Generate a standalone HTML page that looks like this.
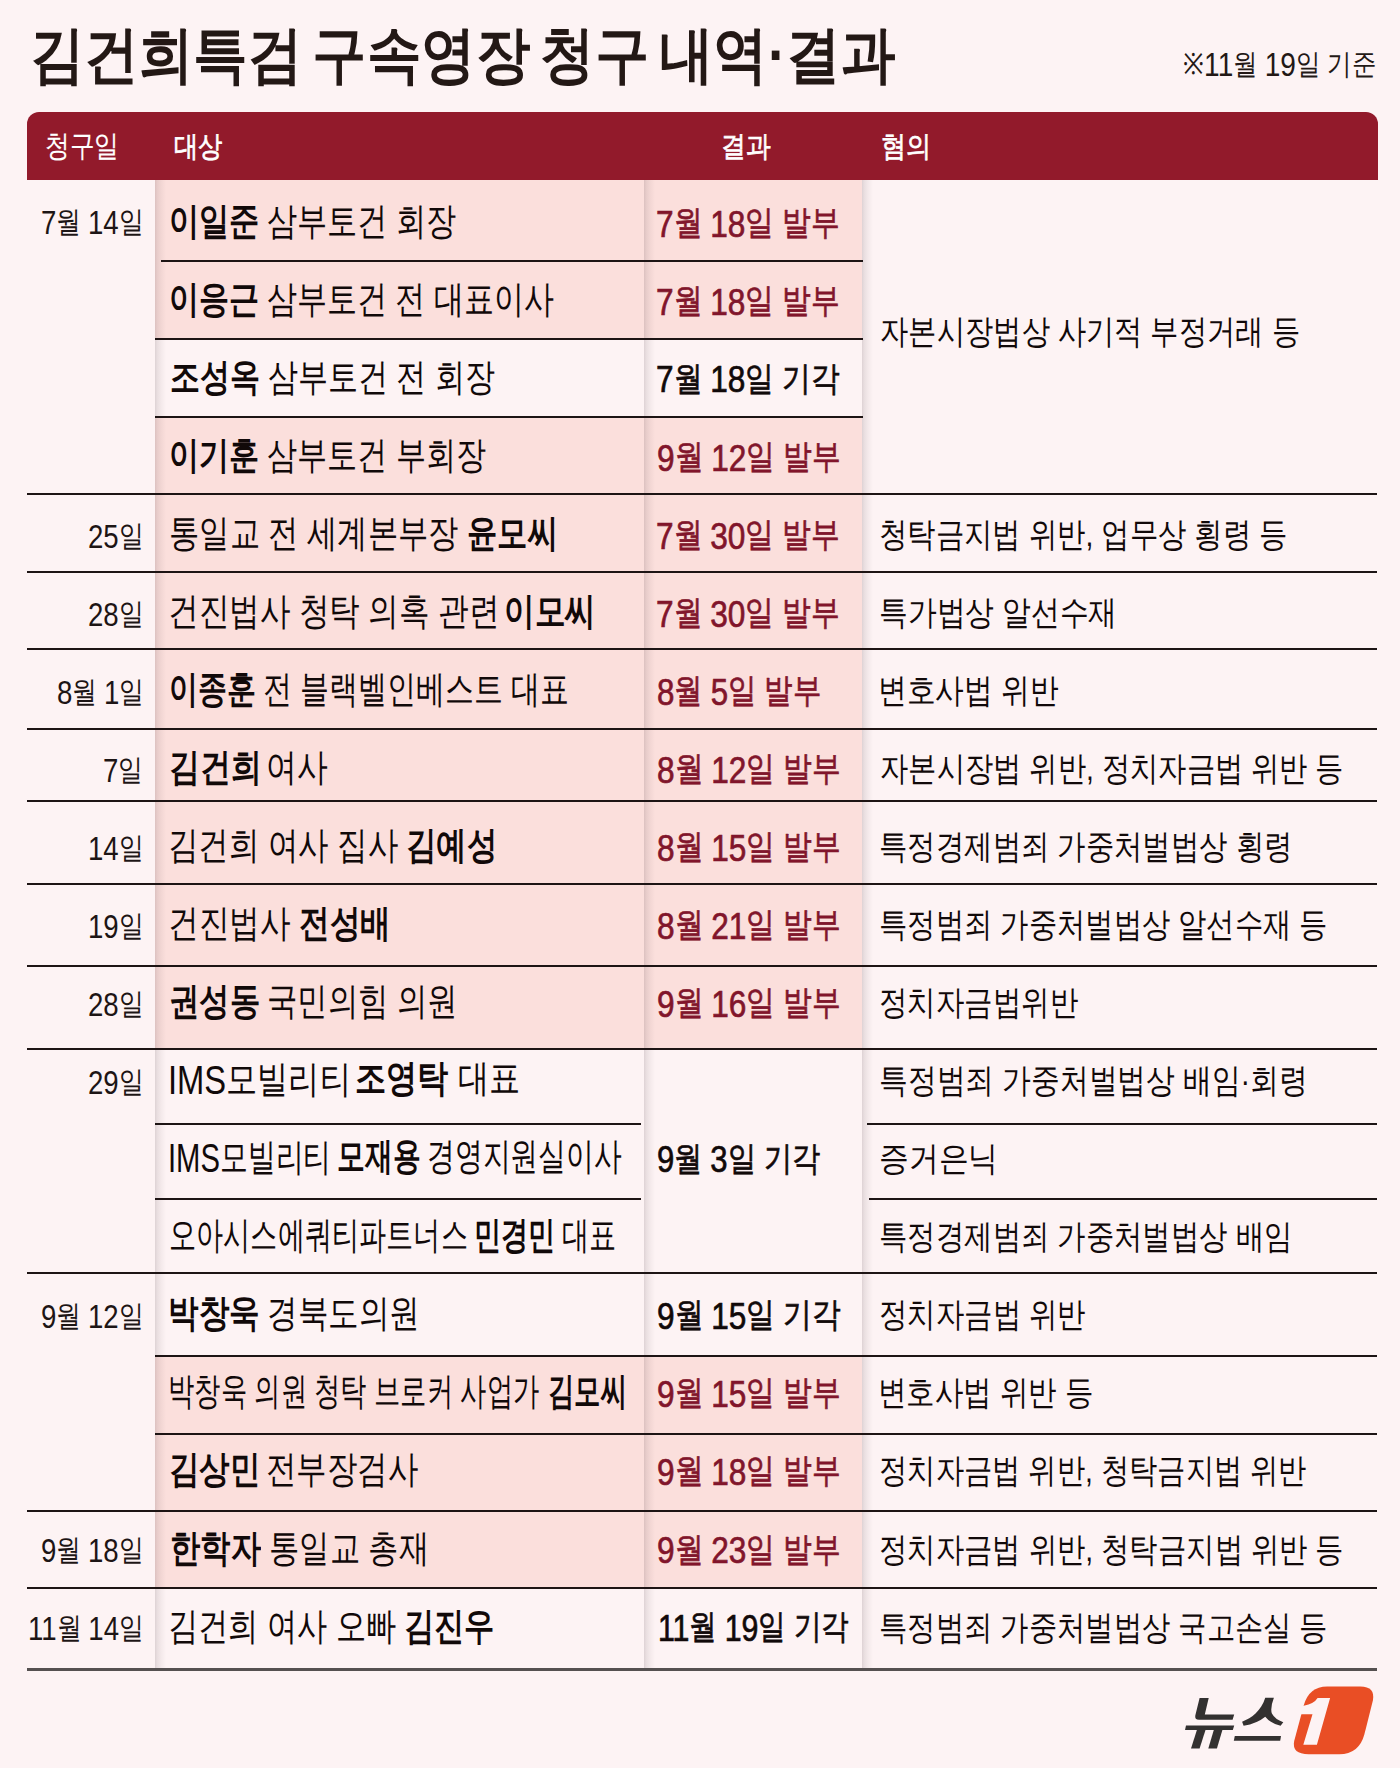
<!DOCTYPE html>
<html><head><meta charset="utf-8"><style>
html,body{margin:0;padding:0}
body{width:1400px;height:1768px;background:#fdf3f4;position:relative;overflow:hidden;font-family:"Liberation Sans",sans-serif}
.b{position:absolute}
.t{position:absolute;white-space:nowrap;line-height:1;transform-origin:0 0}
</style></head><body>
<div class=b style='left:155px;top:180.0px;width:707px;height:81.3px;background:#fbdfdc'></div>
<div class=b style='left:155px;top:261.3px;width:707px;height:77.5px;background:#fbdfdc'></div>
<div class=b style='left:155px;top:416.7px;width:707px;height:77.3px;background:#fbdfdc'></div>
<div class=b style='left:155px;top:494.0px;width:707px;height:78.0px;background:#fbdfdc'></div>
<div class=b style='left:155px;top:572.0px;width:707px;height:76.6px;background:#fbdfdc'></div>
<div class=b style='left:155px;top:648.6px;width:707px;height:80.0px;background:#fbdfdc'></div>
<div class=b style='left:155px;top:728.6px;width:707px;height:72.3px;background:#fbdfdc'></div>
<div class=b style='left:155px;top:800.9px;width:707px;height:82.6px;background:#fbdfdc'></div>
<div class=b style='left:155px;top:883.5px;width:707px;height:82.5px;background:#fbdfdc'></div>
<div class=b style='left:155px;top:966.0px;width:707px;height:82.6px;background:#fbdfdc'></div>
<div class=b style='left:155px;top:1356.4px;width:707px;height:77.3px;background:#fbdfdc'></div>
<div class=b style='left:155px;top:1433.7px;width:707px;height:76.8px;background:#fbdfdc'></div>
<div class=b style='left:155px;top:1510.5px;width:707px;height:77.2px;background:#fbdfdc'></div>
<div class=b style='left:155px;top:180px;width:11px;height:1488px;background:linear-gradient(90deg,rgba(30,10,20,.14),rgba(30,10,20,.09) 20%,rgba(30,10,20,.045) 55%,rgba(30,10,20,0))'></div>
<div class=b style='left:644px;top:180px;width:11px;height:1488px;background:linear-gradient(90deg,rgba(30,10,20,.14),rgba(30,10,20,.09) 20%,rgba(30,10,20,.045) 55%,rgba(30,10,20,0))'></div>
<div class=b style='left:862px;top:180px;width:11px;height:1488px;background:linear-gradient(90deg,rgba(30,10,20,.14),rgba(30,10,20,.09) 20%,rgba(30,10,20,.045) 55%,rgba(30,10,20,0))'></div>
<div class=b style='left:27px;top:493.0px;width:1350px;height:2px;background:#1d1414'></div>
<div class=b style='left:27px;top:571.0px;width:1350px;height:2px;background:#1d1414'></div>
<div class=b style='left:27px;top:647.6px;width:1350px;height:2px;background:#1d1414'></div>
<div class=b style='left:27px;top:727.6px;width:1350px;height:2px;background:#1d1414'></div>
<div class=b style='left:27px;top:799.9px;width:1350px;height:2px;background:#1d1414'></div>
<div class=b style='left:27px;top:882.5px;width:1350px;height:2px;background:#1d1414'></div>
<div class=b style='left:27px;top:965.0px;width:1350px;height:2px;background:#1d1414'></div>
<div class=b style='left:27px;top:1047.6px;width:1350px;height:2px;background:#1d1414'></div>
<div class=b style='left:27px;top:1272.3px;width:1350px;height:2px;background:#1d1414'></div>
<div class=b style='left:27px;top:1509.5px;width:1350px;height:2px;background:#1d1414'></div>
<div class=b style='left:27px;top:1586.7px;width:1350px;height:2px;background:#1d1414'></div>
<div class=b style='left:161px;top:260.3px;width:702px;height:2px;background:#1d1414'></div>
<div class=b style='left:155px;top:337.8px;width:708px;height:2px;background:#1d1414'></div>
<div class=b style='left:155px;top:415.7px;width:708px;height:2px;background:#1d1414'></div>
<div class=b style='left:155px;top:1122.5px;width:486px;height:2px;background:#1d1414'></div>
<div class=b style='left:867px;top:1122.5px;width:510px;height:2px;background:#1d1414'></div>
<div class=b style='left:155px;top:1197.6px;width:486px;height:2px;background:#1d1414'></div>
<div class=b style='left:869px;top:1197.6px;width:508px;height:2px;background:#1d1414'></div>
<div class=b style='left:155px;top:1355.4px;width:1222px;height:2px;background:#1d1414'></div>
<div class=b style='left:155px;top:1432.7px;width:1222px;height:2px;background:#1d1414'></div>
<div class=b style='left:27px;top:1667.8px;width:1350px;height:3px;background:#555050'></div>
<div class=b style='left:27px;top:112px;width:1351px;height:68px;background:#921a2b;border-radius:12px 12px 0 0'></div>
<div class=t style='left:29.58px;top:23.74px;font-size:62.19px;color:#231815;transform:scaleX(0.8787);word-spacing:-6px;'><span style='font-weight:700'>김건희특검 구속영장 청구 내역·결과</span></div>
<div class=t style='left:1183.14px;top:45.92px;font-size:29.45px;color:#231815;transform:scaleX(0.8442);'><span style='font-weight:400'>※<span style='font-size:1.13em;position:relative;top:0.06em'>11</span>월 <span style='font-size:1.13em;position:relative;top:0.06em'>19</span>일 기준</span></div>
<div class=t style='left:45.44px;top:131.49px;font-size:30.22px;color:#ffffff;transform:scaleX(0.8248);-webkit-text-stroke:0.15px #ffffff;'><span style='font-weight:400'>청구일</span></div>
<div class=t style='left:174.39px;top:131.56px;font-size:29.14px;color:#ffffff;transform:scaleX(0.8375);-webkit-text-stroke:0.75px #ffffff;'><span style='font-weight:400'>대상</span></div>
<div class=t style='left:720.71px;top:131.56px;font-size:29.14px;color:#ffffff;transform:scaleX(0.8560);-webkit-text-stroke:0.7px #ffffff;'><span style='font-weight:400'>결과</span></div>
<div class=t style='left:881.21px;top:131.56px;font-size:29.14px;color:#ffffff;transform:scaleX(0.8674);-webkit-text-stroke:0.7px #ffffff;'><span style='font-weight:400'>혐의</span></div>
<div class=t style='left:41.24px;top:204.00px;font-size:29.5px;color:#1d1515;transform:scaleX(0.8280);'><span style='font-weight:400'><span style='font-size:1.13em;position:relative;top:0.06em'>7</span>월 <span style='font-size:1.13em;position:relative;top:0.06em'>14</span>일</span></div>
<div class=t style='left:88.44px;top:517.62px;font-size:29.5px;color:#1d1515;transform:scaleX(0.8280);'><span style='font-weight:400'><span style='font-size:1.13em;position:relative;top:0.06em'>25</span>일</span></div>
<div class=t style='left:88.44px;top:595.65px;font-size:29.5px;color:#1d1515;transform:scaleX(0.8280);'><span style='font-weight:400'><span style='font-size:1.13em;position:relative;top:0.06em'>28</span>일</span></div>
<div class=t style='left:56.98px;top:673.68px;font-size:29.5px;color:#1d1515;transform:scaleX(0.8280);'><span style='font-weight:400'><span style='font-size:1.13em;position:relative;top:0.06em'>8</span>월 <span style='font-size:1.13em;position:relative;top:0.06em'>1</span>일</span></div>
<div class=t style='left:103.34px;top:751.71px;font-size:29.5px;color:#1d1515;transform:scaleX(0.8280);'><span style='font-weight:400'><span style='font-size:1.13em;position:relative;top:0.06em'>7</span>일</span></div>
<div class=t style='left:88.44px;top:829.74px;font-size:29.5px;color:#1d1515;transform:scaleX(0.8280);'><span style='font-weight:400'><span style='font-size:1.13em;position:relative;top:0.06em'>14</span>일</span></div>
<div class=t style='left:88.44px;top:907.77px;font-size:29.5px;color:#1d1515;transform:scaleX(0.8280);'><span style='font-weight:400'><span style='font-size:1.13em;position:relative;top:0.06em'>19</span>일</span></div>
<div class=t style='left:88.44px;top:985.80px;font-size:29.5px;color:#1d1515;transform:scaleX(0.8280);'><span style='font-weight:400'><span style='font-size:1.13em;position:relative;top:0.06em'>28</span>일</span></div>
<div class=t style='left:88.44px;top:1063.83px;font-size:29.5px;color:#1d1515;transform:scaleX(0.8280);'><span style='font-weight:400'><span style='font-size:1.13em;position:relative;top:0.06em'>29</span>일</span></div>
<div class=t style='left:41.24px;top:1297.92px;font-size:29.5px;color:#1d1515;transform:scaleX(0.8280);'><span style='font-weight:400'><span style='font-size:1.13em;position:relative;top:0.06em'>9</span>월 <span style='font-size:1.13em;position:relative;top:0.06em'>12</span>일</span></div>
<div class=t style='left:41.24px;top:1532.01px;font-size:29.5px;color:#1d1515;transform:scaleX(0.8280);'><span style='font-weight:400'><span style='font-size:1.13em;position:relative;top:0.06em'>9</span>월 <span style='font-size:1.13em;position:relative;top:0.06em'>18</span>일</span></div>
<div class=t style='left:28.00px;top:1610.04px;font-size:29.5px;color:#1d1515;transform:scaleX(0.8280);'><span style='font-weight:400'><span style='font-size:1.13em;position:relative;top:0.06em'>11</span>월 <span style='font-size:1.13em;position:relative;top:0.06em'>14</span>일</span></div>
<div class=t style='left:168.82px;top:202.00px;font-size:38px;color:#110909;transform:scaleX(0.7936);'><span style='font-weight:700'>이일준</span></div>
<div class=t style='left:267.12px;top:202.00px;font-size:38px;color:#110909;transform:scaleX(0.7936);'><span style='font-weight:400'>삼부토건 회장</span></div>
<div class=t style='left:168.83px;top:280.03px;font-size:38px;color:#110909;transform:scaleX(0.7896);'><span style='font-weight:700'>이응근</span></div>
<div class=t style='left:266.68px;top:280.03px;font-size:38px;color:#110909;transform:scaleX(0.7896);'><span style='font-weight:400'>삼부토건 전 대표이사</span></div>
<div class=t style='left:169.62px;top:358.06px;font-size:38px;color:#110909;transform:scaleX(0.7904);'><span style='font-weight:700'>조성옥</span></div>
<div class=t style='left:267.56px;top:358.06px;font-size:38px;color:#110909;transform:scaleX(0.7904);'><span style='font-weight:400'>삼부토건 전 회장</span></div>
<div class=t style='left:168.82px;top:436.09px;font-size:38px;color:#110909;transform:scaleX(0.7924);'><span style='font-weight:700'>이기훈</span></div>
<div class=t style='left:266.99px;top:436.09px;font-size:38px;color:#110909;transform:scaleX(0.7924);'><span style='font-weight:400'>삼부토건 부회장</span></div>
<div class=t style='left:168.81px;top:514.12px;font-size:38px;color:#110909;transform:scaleX(0.7970);'><span style='font-weight:400'>통일교 전 세계본부장</span></div>
<div class=t style='left:466.73px;top:514.12px;font-size:38px;color:#110909;transform:scaleX(0.7970);'><span style='font-weight:700'>윤모씨</span></div>
<div class=t style='left:167.98px;top:592.15px;font-size:38px;color:#110909;transform:scaleX(0.8047);'><span style='font-weight:400'>건진법사 청탁 의혹 관련</span></div>
<div class=t style='left:504.09px;top:592.15px;font-size:38px;color:#110909;transform:scaleX(0.8047);'><span style='font-weight:700'>이모씨</span></div>
<div class=t style='left:168.91px;top:670.18px;font-size:38px;color:#110909;transform:scaleX(0.7617);'><span style='font-weight:700'>이종훈</span></div>
<div class=t style='left:262.94px;top:670.18px;font-size:38px;color:#110909;transform:scaleX(0.7617);'><span style='font-weight:400'>전 블랙벨인베스트 대표</span></div>
<div class=t style='left:168.76px;top:748.21px;font-size:38px;color:#110909;transform:scaleX(0.8124);'><span style='font-weight:700'>김건희</span></div>
<div class=t style='left:265.87px;top:748.21px;font-size:38px;color:#110909;transform:scaleX(0.8124);'><span style='font-weight:400'>여사</span></div>
<div class=t style='left:167.99px;top:826.24px;font-size:38px;color:#110909;transform:scaleX(0.8015);'><span style='font-weight:400'>김건희 여사 집사</span></div>
<div class=t style='left:405.83px;top:826.24px;font-size:38px;color:#110909;transform:scaleX(0.8015);'><span style='font-weight:700'>김예성</span></div>
<div class=t style='left:167.97px;top:904.27px;font-size:38px;color:#110909;transform:scaleX(0.8067);'><span style='font-weight:400'>건진법사</span></div>
<div class=t style='left:299.17px;top:904.27px;font-size:38px;color:#110909;transform:scaleX(0.8067);'><span style='font-weight:700'>전성배</span></div>
<div class=t style='left:168.80px;top:982.30px;font-size:38px;color:#110909;transform:scaleX(0.8000);'><span style='font-weight:700'>권성동</span></div>
<div class=t style='left:267.00px;top:982.30px;font-size:38px;color:#110909;transform:scaleX(0.8000);'><span style='font-weight:400'>국민의힘 의원</span></div>
<div class=t style='left:167.92px;top:1059.33px;font-size:38px;color:#110909;transform:scaleX(0.8199);'><span style='font-weight:400'><span style='font-size:1.05em;position:relative;top:0.05em'>IMS</span>모빌리티</span></div>
<div class=t style='left:355.21px;top:1059.33px;font-size:38px;color:#110909;transform:scaleX(0.8199);'><span style='font-weight:700'>조영탁</span></div>
<div class=t style='left:458.04px;top:1059.33px;font-size:38px;color:#110909;transform:scaleX(0.8199);'><span style='font-weight:400'>대표</span></div>
<div class=t style='left:168.27px;top:1137.36px;font-size:38px;color:#110909;transform:scaleX(0.7320);'><span style='font-weight:400'><span style='font-size:1.05em;position:relative;top:0.05em'>IMS</span>모빌리티</span></div>
<div class=t style='left:336.64px;top:1137.36px;font-size:38px;color:#110909;transform:scaleX(0.7320);'><span style='font-weight:700'>모재용</span></div>
<div class=t style='left:427.43px;top:1137.36px;font-size:38px;color:#110909;transform:scaleX(0.7320);'><span style='font-weight:400'>경영지원실이사</span></div>
<div class=t style='left:169.06px;top:1216.39px;font-size:38px;color:#110909;transform:scaleX(0.7149);'><span style='font-weight:400'>오아시스에쿼티파트너스</span></div>
<div class=t style='left:473.90px;top:1216.39px;font-size:38px;color:#110909;transform:scaleX(0.7149);'><span style='font-weight:700'>민경민</span></div>
<div class=t style='left:562.11px;top:1216.39px;font-size:38px;color:#110909;transform:scaleX(0.7149);'><span style='font-weight:400'>대표</span></div>
<div class=t style='left:167.98px;top:1294.42px;font-size:38px;color:#110909;transform:scaleX(0.8038);'><span style='font-weight:700'>박창욱</span></div>
<div class=t style='left:266.60px;top:1294.42px;font-size:38px;color:#110909;transform:scaleX(0.8038);'><span style='font-weight:400'>경북도의원</span></div>
<div class=t style='left:168.43px;top:1372.45px;font-size:38px;color:#110909;transform:scaleX(0.6923);'><span style='font-weight:400'>박창욱 의원 청탁 브로커 사업가</span></div>
<div class=t style='left:547.74px;top:1372.45px;font-size:38px;color:#110909;transform:scaleX(0.6923);'><span style='font-weight:700'>김모씨</span></div>
<div class=t style='left:168.79px;top:1450.48px;font-size:38px;color:#110909;transform:scaleX(0.8017);'><span style='font-weight:700'>김상민</span></div>
<div class=t style='left:265.58px;top:1450.48px;font-size:38px;color:#110909;transform:scaleX(0.8017);'><span style='font-weight:400'>전부장검사</span></div>
<div class=t style='left:169.61px;top:1528.51px;font-size:38px;color:#110909;transform:scaleX(0.7974);'><span style='font-weight:700'>한학자</span></div>
<div class=t style='left:269.11px;top:1528.51px;font-size:38px;color:#110909;transform:scaleX(0.7974);'><span style='font-weight:400'>통일교 총재</span></div>
<div class=t style='left:168.02px;top:1606.54px;font-size:38px;color:#110909;transform:scaleX(0.7954);'><span style='font-weight:400'>김건희 여사 오빠</span></div>
<div class=t style='left:404.12px;top:1606.54px;font-size:38px;color:#110909;transform:scaleX(0.7954);'><span style='font-weight:700'>김진우</span></div>
<div class=t style='left:656.21px;top:203.00px;font-size:34px;color:#81152b;transform:scaleX(0.8451);-webkit-text-stroke:0.7px #81152b;'><span style='font-weight:400'><span style='font-size:1.1em;position:relative;top:0.07em'>7</span>월 <span style='font-size:1.1em;position:relative;top:0.07em'>18</span>일 발부</span></div>
<div class=t style='left:656.21px;top:281.03px;font-size:34px;color:#81152b;transform:scaleX(0.8451);-webkit-text-stroke:0.7px #81152b;'><span style='font-weight:400'><span style='font-size:1.1em;position:relative;top:0.07em'>7</span>월 <span style='font-size:1.1em;position:relative;top:0.07em'>18</span>일 발부</span></div>
<div class=t style='left:656.21px;top:358.56px;font-size:34px;color:#110909;transform:scaleX(0.8451);-webkit-text-stroke:0.7px #110909;'><span style='font-weight:400'><span style='font-size:1.1em;position:relative;top:0.07em'>7</span>월 <span style='font-size:1.1em;position:relative;top:0.07em'>18</span>일 기각</span></div>
<div class=t style='left:657.05px;top:437.09px;font-size:34px;color:#81152b;transform:scaleX(0.8451);-webkit-text-stroke:0.7px #81152b;'><span style='font-weight:400'><span style='font-size:1.1em;position:relative;top:0.07em'>9</span>월 <span style='font-size:1.1em;position:relative;top:0.07em'>12</span>일 발부</span></div>
<div class=t style='left:656.21px;top:515.12px;font-size:34px;color:#81152b;transform:scaleX(0.8451);-webkit-text-stroke:0.7px #81152b;'><span style='font-weight:400'><span style='font-size:1.1em;position:relative;top:0.07em'>7</span>월 <span style='font-size:1.1em;position:relative;top:0.07em'>30</span>일 발부</span></div>
<div class=t style='left:656.21px;top:593.15px;font-size:34px;color:#81152b;transform:scaleX(0.8451);-webkit-text-stroke:0.7px #81152b;'><span style='font-weight:400'><span style='font-size:1.1em;position:relative;top:0.07em'>7</span>월 <span style='font-size:1.1em;position:relative;top:0.07em'>30</span>일 발부</span></div>
<div class=t style='left:656.66px;top:671.18px;font-size:34px;color:#81152b;transform:scaleX(0.8363);-webkit-text-stroke:0.7px #81152b;'><span style='font-weight:400'><span style='font-size:1.1em;position:relative;top:0.07em'>8</span>월 <span style='font-size:1.1em;position:relative;top:0.07em'>5</span>일 발부</span></div>
<div class=t style='left:657.05px;top:749.21px;font-size:34px;color:#81152b;transform:scaleX(0.8451);-webkit-text-stroke:0.7px #81152b;'><span style='font-weight:400'><span style='font-size:1.1em;position:relative;top:0.07em'>8</span>월 <span style='font-size:1.1em;position:relative;top:0.07em'>12</span>일 발부</span></div>
<div class=t style='left:657.05px;top:827.24px;font-size:34px;color:#81152b;transform:scaleX(0.8451);-webkit-text-stroke:0.7px #81152b;'><span style='font-weight:400'><span style='font-size:1.1em;position:relative;top:0.07em'>8</span>월 <span style='font-size:1.1em;position:relative;top:0.07em'>15</span>일 발부</span></div>
<div class=t style='left:657.05px;top:905.27px;font-size:34px;color:#81152b;transform:scaleX(0.8451);-webkit-text-stroke:0.7px #81152b;'><span style='font-weight:400'><span style='font-size:1.1em;position:relative;top:0.07em'>8</span>월 <span style='font-size:1.1em;position:relative;top:0.07em'>21</span>일 발부</span></div>
<div class=t style='left:657.05px;top:983.30px;font-size:34px;color:#81152b;transform:scaleX(0.8451);-webkit-text-stroke:0.7px #81152b;'><span style='font-weight:400'><span style='font-size:1.1em;position:relative;top:0.07em'>9</span>월 <span style='font-size:1.1em;position:relative;top:0.07em'>16</span>일 발부</span></div>
<div class=t style='left:657.07px;top:1138.86px;font-size:34px;color:#110909;transform:scaleX(0.8297);-webkit-text-stroke:0.7px #110909;'><span style='font-weight:400'><span style='font-size:1.1em;position:relative;top:0.07em'>9</span>월 <span style='font-size:1.1em;position:relative;top:0.07em'>3</span>일 기각</span></div>
<div class=t style='left:657.05px;top:1294.92px;font-size:34px;color:#110909;transform:scaleX(0.8451);-webkit-text-stroke:0.7px #110909;'><span style='font-weight:400'><span style='font-size:1.1em;position:relative;top:0.07em'>9</span>월 <span style='font-size:1.1em;position:relative;top:0.07em'>15</span>일 기각</span></div>
<div class=t style='left:657.05px;top:1373.45px;font-size:34px;color:#81152b;transform:scaleX(0.8451);-webkit-text-stroke:0.7px #81152b;'><span style='font-weight:400'><span style='font-size:1.1em;position:relative;top:0.07em'>9</span>월 <span style='font-size:1.1em;position:relative;top:0.07em'>15</span>일 발부</span></div>
<div class=t style='left:657.05px;top:1451.48px;font-size:34px;color:#81152b;transform:scaleX(0.8451);-webkit-text-stroke:0.7px #81152b;'><span style='font-weight:400'><span style='font-size:1.1em;position:relative;top:0.07em'>9</span>월 <span style='font-size:1.1em;position:relative;top:0.07em'>18</span>일 발부</span></div>
<div class=t style='left:657.05px;top:1529.51px;font-size:34px;color:#81152b;transform:scaleX(0.8451);-webkit-text-stroke:0.7px #81152b;'><span style='font-weight:400'><span style='font-size:1.1em;position:relative;top:0.07em'>9</span>월 <span style='font-size:1.1em;position:relative;top:0.07em'>23</span>일 발부</span></div>
<div class=t style='left:658.18px;top:1607.04px;font-size:34px;color:#110909;transform:scaleX(0.8112);-webkit-text-stroke:0.7px #110909;'><span style='font-weight:400'><span style='font-size:1.1em;position:relative;top:0.07em'>11</span>월 <span style='font-size:1.1em;position:relative;top:0.07em'>19</span>일 기각</span></div>
<div class=t style='left:880.14px;top:313.50px;font-size:34px;color:#110909;transform:scaleX(0.8324);'><span style='font-weight:400'>자본시장법상 사기적 부정거래 등</span></div>
<div class=t style='left:879.30px;top:517.12px;font-size:34px;color:#110909;transform:scaleX(0.8345);'><span style='font-weight:400'>청탁금지법 위반, 업무상 횡령 등</span></div>
<div class=t style='left:879.26px;top:595.15px;font-size:34px;color:#110909;transform:scaleX(0.8465);'><span style='font-weight:400'>특가법상 알선수재</span></div>
<div class=t style='left:878.42px;top:673.18px;font-size:34px;color:#110909;transform:scaleX(0.8447);'><span style='font-weight:400'>변호사법 위반</span></div>
<div class=t style='left:880.14px;top:751.21px;font-size:34px;color:#110909;transform:scaleX(0.8322);'><span style='font-weight:400'>자본시장법 위반, 정치자금법 위반 등</span></div>
<div class=t style='left:879.29px;top:829.24px;font-size:34px;color:#110909;transform:scaleX(0.8353);'><span style='font-weight:400'>특정경제범죄 가중처벌법상 횡령</span></div>
<div class=t style='left:879.30px;top:907.27px;font-size:34px;color:#110909;transform:scaleX(0.8334);'><span style='font-weight:400'>특정범죄 가중처벌법상 알선수재 등</span></div>
<div class=t style='left:879.29px;top:985.30px;font-size:34px;color:#110909;transform:scaleX(0.8380);'><span style='font-weight:400'>정치자금법위반</span></div>
<div class=t style='left:879.26px;top:1063.33px;font-size:34px;color:#110909;transform:scaleX(0.8470);'><span style='font-weight:400'>특정범죄 가중처벌법상 배임·회령</span></div>
<div class=t style='left:879.17px;top:1141.36px;font-size:34px;color:#110909;transform:scaleX(0.8758);'><span style='font-weight:400'>증거은닉</span></div>
<div class=t style='left:879.29px;top:1219.39px;font-size:34px;color:#110909;transform:scaleX(0.8353);'><span style='font-weight:400'>특정경제범죄 가중처벌법상 배임</span></div>
<div class=t style='left:879.29px;top:1297.42px;font-size:34px;color:#110909;transform:scaleX(0.8362);'><span style='font-weight:400'>정치자금법 위반</span></div>
<div class=t style='left:878.45px;top:1375.45px;font-size:34px;color:#110909;transform:scaleX(0.8378);'><span style='font-weight:400'>변호사법 위반 등</span></div>
<div class=t style='left:879.30px;top:1453.48px;font-size:34px;color:#110909;transform:scaleX(0.8325);'><span style='font-weight:400'>정치자금법 위반, 청탁금지법 위반</span></div>
<div class=t style='left:879.30px;top:1531.51px;font-size:34px;color:#110909;transform:scaleX(0.8339);'><span style='font-weight:400'>정치자금법 위반, 청탁금지법 위반 등</span></div>
<div class=t style='left:879.30px;top:1609.54px;font-size:34px;color:#110909;transform:scaleX(0.8336);'><span style='font-weight:400'>특정범죄 가중처벌법상 국고손실 등</span></div>
<svg class=b style="left:0;top:0" width="1400" height="1768" viewBox="0 0 1400 1768">
<path fill="#e94e25" d="M1327.1 1686.4 L1360.3 1686.4 Q1375.5 1686.4 1372.9 1700.4 L1364.4 1734.3 Q1359 1754.3 1339.3 1754.3 L1308.7 1754.3 Q1291.5 1754.3 1294.2 1741.1 L1303.7 1705.4 Q1309 1686.4 1327.1 1686.4 Z"/>
<path fill="#fdf3f4" d="M1317.6 1698 L1330.1 1698 L1316.9 1744.8 L1303.3 1744.8 L1312.5 1714.3 L1290 1714.3 L1290 1705.8 L1303.7 1705.8 Q1314.2 1703.7 1317.6 1698 Z"/>
<g fill="#333130">
<path d="M1199.6 1697.9 L1208.7 1697.9 L1204.8 1714.6 L1234.2 1714.6 L1232.6 1719.7 L1199 1719.7 Q1194.5 1719.7 1195.3 1715.5 Z"/>
<path d="M1186 1725.4 L1234.2 1725.4 L1232.8 1729.9 L1185 1729.9 Z"/>
<path d="M1196.9 1729.9 L1205.5 1729.9 L1199.6 1748.5 L1191 1748.5 Z"/>
<path d="M1213.8 1729.9 L1222.4 1729.9 L1216.9 1748.5 L1208.3 1748.5 Z"/>
<path d="M1265.25 1697.86 L1273.9 1697.86 Q1270 1708 1271.9 1713.6 Q1275 1719.5 1283.3 1722.2 L1280.6 1725.75 Q1270 1723 1265.25 1716.7 Q1257 1723.5 1243.6 1725.75 L1242.1 1721.8 C1252 1718 1261 1711 1265.25 1697.86 Z"/>
<path d="M1234.8 1736 L1281 1736 L1280.2 1740.7 L1233.8 1740.7 Z"/>
</g></svg>
</body></html>
